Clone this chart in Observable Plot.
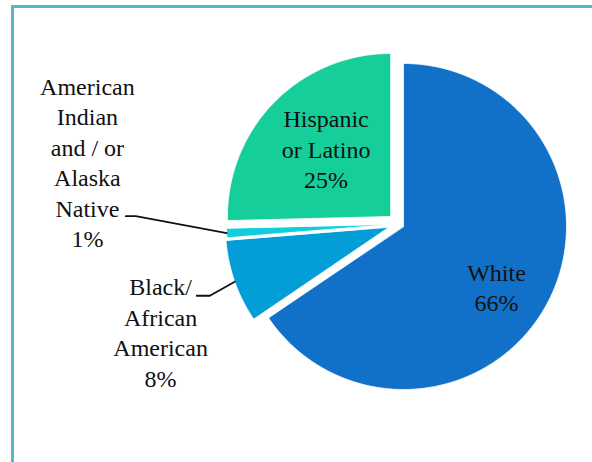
<!DOCTYPE html>
<html><head><meta charset="utf-8">
<script src="https://cdn.jsdelivr.net/npm/d3@7"></script>
<script src="https://cdn.jsdelivr.net/npm/@observablehq/plot@0.6"></script>
<style>
html,body{margin:0;padding:0;background:#fff;overflow:hidden;font-family:'Liberation Serif','Times New Roman',serif}
#wrap{position:relative;width:592px;height:462px;overflow:hidden}
#border{position:absolute;left:11px;top:5px;right:0;bottom:0;border-left:3px solid #57B5CF;border-top:3px solid #57B5CF;pointer-events:none}
svg text, svg tspan{font-family:'Liberation Serif','Times New Roman',serif !important}
</style>
</head><body><div id="wrap"><div id="chart"></div><div id="border"></div></div>
<script>
// ---- data ----
const categories = ["White", "Black/\nAfrican\nAmerican", "American\nIndian\nand / or\nAlaska\nNative", "Hispanic\nor Latino"];
const values = [65.5, 8.2, 0.9, 25.4];
const percentLabels = ["66%", "8%", "1%", "25%"];

// ---- styles / layout ----
const colors = ["#1170C8", "#039DD8", "#12CEDC", "#16CE9A"];
const W = 592, H = 462;
const R = 163;              // pie radius in px
const cx = 392, cy = 220;   // pie centre in px
const explodePx = [[11, 6], [-4, 7], [-3, 4], [-2, -4]];   // per-slice explosion (px)
const labelPlace = [[0.68, -5, 8], [1.45, -5, 25], [1.85, -1, -79.5], [0.565, 1.5, -4]]; // [radius fraction, dx, dy]
const leaderPx = [null, [[-38, 14], [-25, 14]], [[-101, -17], [-91, -17]], null]; // label end, elbow (px from arc)
const FONT = "serif";

const pie = d3.pie().sort(null).value(d => d)(values);
const slices = pie.map((p, i) => {
  const ox = explodePx[i][0] / R, oy = -explodePx[i][1] / R;
  const pts = [{x: ox, y: oy}];
  const n = Math.max(4, Math.ceil((p.endAngle - p.startAngle) / (Math.PI / 360)));
  for (let k = 0; k <= n; k++) {
    const a = p.startAngle + (p.endAngle - p.startAngle) * k / n;
    pts.push({x: ox + Math.sin(a), y: oy + Math.cos(a)});
  }
  const mid = (p.startAngle + p.endAngle) / 2;
  return {i, pts, ox, oy, mid};
});

const labels = slices.map(s => {
  const [f] = labelPlace[s.i];
  return {x: s.ox + f * Math.sin(s.mid), y: s.oy + f * Math.cos(s.mid),
          text: categories[s.i] + "\n" + percentLabels[s.i], i: s.i};
});

const leaders = [];
slices.forEach(s => {
  const L = leaderPx[s.i];
  if (!L) return;
  const ax = s.ox + Math.sin(s.mid), ay = s.oy + Math.cos(s.mid);
  leaders.push({k: s.i, x: ax + L[0][0] / R, y: ay - L[0][1] / R});
  leaders.push({k: s.i, x: ax + L[1][0] / R, y: ay - L[1][1] / R});
  leaders.push({k: s.i, x: ax, y: ay});
});

const marks = [
  ...slices.map(s => Plot.line(s.pts, {x: "x", y: "y", curve: "linear-closed", fill: colors[s.i], stroke: "white", strokeWidth: 0.8})),
  Plot.line(leaders, {x: "x", y: "y", z: "k", stroke: "#111", strokeWidth: 1.8}),
  ...labels.map(l => Plot.text([l], {x: "x", y: "y", text: "text", dx: labelPlace[l.i][1], dy: labelPlace[l.i][2],
    fontSize: 24, lineHeight: 1.27, fill: "#111", textAnchor: "middle", lineAnchor: "middle",
    fontFamily: FONT}))
];

const chart = Plot.plot({
  width: W, height: H,
  margin: 0,
  x: {domain: [-cx / R, (W - cx) / R], range: [0, W], axis: null},
  y: {domain: [-(H - cy) / R, cy / R], range: [H, 0], axis: null},
  style: {background: "white", overflow: "hidden", fontFamily: FONT},
  marks
});
document.getElementById("chart").appendChild(chart);
</script>
</body></html>
